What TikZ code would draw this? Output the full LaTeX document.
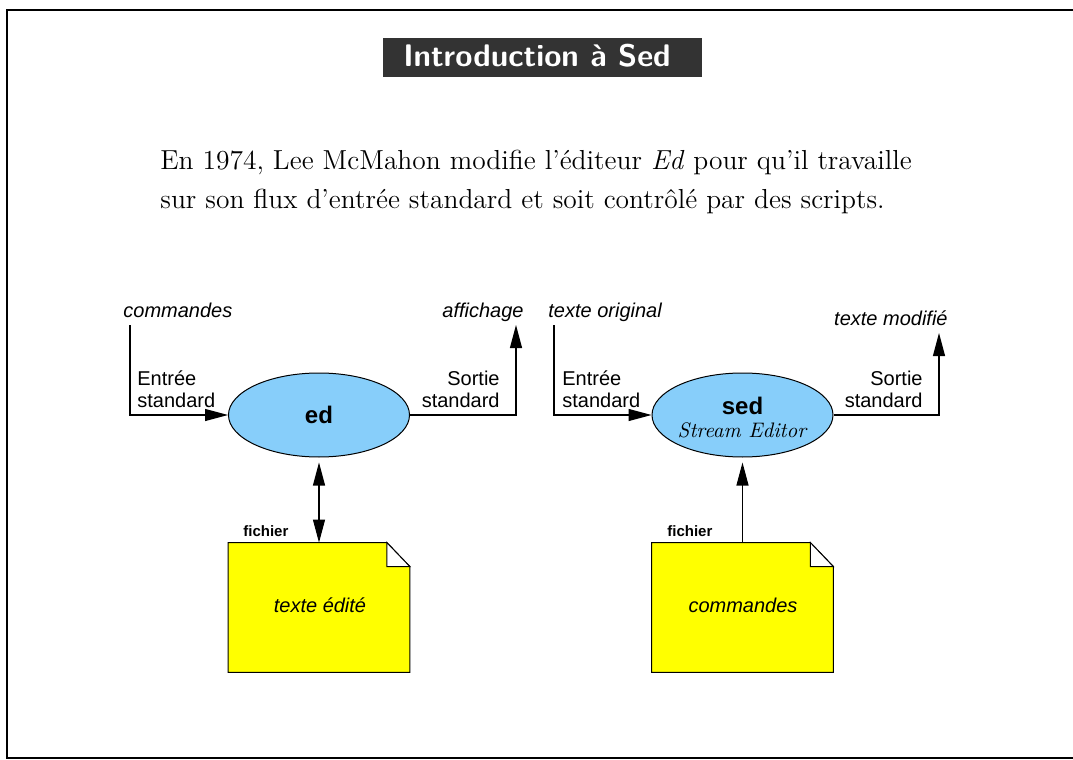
\documentclass[tikz,border=0pt]{standalone}
\usepackage{fontspec}
\newfontfamily\hv{Liberation Sans}
\newfontfamily\titlefont{lmsans10-bold.otf}
\usetikzlibrary{arrows.meta,shapes.geometric}
\definecolor{titlegray}{RGB}{51,51,51}
\definecolor{skyb}{RGB}{135,206,250}
\definecolor{docyellow}{RGB}{255,255,0}
\begin{document}
\begin{tikzpicture}[x=0.5pt,y=-0.5pt,
  lbl/.style={font=\hv\fontsize{10}{12}\selectfont, inner sep=0pt},
  ilbl/.style={font=\hv\itshape\fontsize{10}{12}\selectfont, inner sep=0pt},
  flbl/.style={font=\hv\bfseries\fontsize{7.5}{9}\selectfont, inner sep=0pt},
  proc/.style={ellipse, draw, line width=0.5pt, fill=skyb, minimum width=90.5pt, minimum height=42pt, inner sep=0pt},
  docbox/.style={minimum width=90.5pt, minimum height=64.5pt, inner sep=0pt},
  tip/.style={-{Triangle[length=11.5pt,width=6pt]}},
  dtip/.style={{Triangle[length=11.5pt,width=6pt]}-{Triangle[length=11.5pt,width=6pt]}},
  conn/.style={line width=0.55pt},
  body/.style={anchor=base west, inner sep=0pt, font=\fontsize{13.75}{16}\selectfont}
]
\useasboundingbox (0,0) rectangle (1073,760);
\draw[line width=0.8pt] (1073,10) -- (7,10) -- (7,758) -- (1073,758);
% title
\node (title) [fill=titlegray, minimum width=159.5pt, minimum height=19.5pt, inner sep=0pt] at (542.5,57.5) {};
\node (titletext) [anchor=base, text=white, inner sep=0pt, font=\titlefont\fontsize{15.6}{17}\selectfont] at (537,67) {Introduction à Sed};
% main text
\node (l1) [body] at (160,169) {En 1974, Lee McMahon modifie l'éditeur \textit{Ed} pour qu'il travaille};
\node (l2) [body] at (160,208) {sur son flux d'entrée standard et soit contrôlé par des scripts.};

% ---------- left diagram ----------
\node (ed) [proc] at (319,415) {};
\node (edtxt) [anchor=base, inner sep=0pt, font=\hv\bfseries\fontsize{12}{14}\selectfont] at (319,423) {ed};
\node (cmdin) [ilbl, anchor=base west] at (123,317) {commandes};
\node (affout) [ilbl, anchor=base east] at (524,317) {affichage};
\coordinate (inL) at (130,325);
\coordinate (outL) at (516,325);
\draw[conn, tip] (inL) |- (ed.west);
\draw[conn, tip] (ed.east) -| (outL);
\node (entL1) [lbl, anchor=base west] at (137,385) {Entrée};
\node (entL2) [lbl, anchor=base west] at (137,407) {standard};
\node (sorL1) [lbl, anchor=base east] at (500,385) {Sortie};
\node (sorL2) [lbl, anchor=base east] at (500,407) {standard};
\node (doc1) [docbox] at (319,607.5) {};
\draw[line width=0.5pt, fill=docyellow] (doc1.north west) -- ([xshift=-11.5pt]doc1.north east) -- ([yshift=-12pt]doc1.north east) -- (doc1.south east) -- (doc1.south west) -- cycle;
\draw[line width=0.5pt, fill=white] ([xshift=-11.5pt]doc1.north east) -- ([xshift=-11.5pt,yshift=-12pt]doc1.north east) -- ([yshift=-12pt]doc1.north east) -- cycle;
\node (doc1txt) [ilbl, anchor=base] at (320,612) {texte édité};
\node (fic1) [flbl, anchor=base west] at (243,536) {fichier};
\draw[conn, dtip, shorten <=2.5pt] (ed.south) -- (doc1.north);

% ---------- right diagram ----------
\node (sed) [proc] at (742.5,415) {};
\node (sedtxt) [anchor=base, inner sep=0pt, font=\hv\bfseries\fontsize{12}{14}\selectfont] at (742.5,414) {sed};
\node (sedsub) [anchor=base, inner sep=0pt, font=\itshape\fontsize{10.5}{12}\selectfont] at (742,437) {Stream Editor};
\node (origin) [ilbl, anchor=base west] at (548,317) {texte original};
\node (modif) [ilbl, anchor=base east] at (948,325) {texte modifié};
\coordinate (inR) at (554,325);
\coordinate (outR) at (939,333);
\draw[conn, tip] (inR) |- (sed.west);
\draw[conn, tip] (sed.east) -| (outR);
\node (entR1) [lbl, anchor=base west] at (562,385) {Entrée};
\node (entR2) [lbl, anchor=base west] at (562,407) {standard};
\node (sorR1) [lbl, anchor=base east] at (923,385) {Sortie};
\node (sorR2) [lbl, anchor=base east] at (923,407) {standard};
\node (doc2) [docbox] at (742.5,607.5) {};
\draw[line width=0.5pt, fill=docyellow] (doc2.north west) -- ([xshift=-11.5pt]doc2.north east) -- ([yshift=-12pt]doc2.north east) -- (doc2.south east) -- (doc2.south west) -- cycle;
\draw[line width=0.5pt, fill=white] ([xshift=-11.5pt]doc2.north east) -- ([xshift=-11.5pt,yshift=-12pt]doc2.north east) -- ([yshift=-12pt]doc2.north east) -- cycle;
\node (doc2txt) [ilbl, anchor=base] at (743,612) {commandes};
\node (fic2) [flbl, anchor=base west] at (667,536) {fichier};
\draw[conn, tip] (doc2.north) -- ([yshift=-2.5pt]sed.south);
\end{tikzpicture}
\end{document}
